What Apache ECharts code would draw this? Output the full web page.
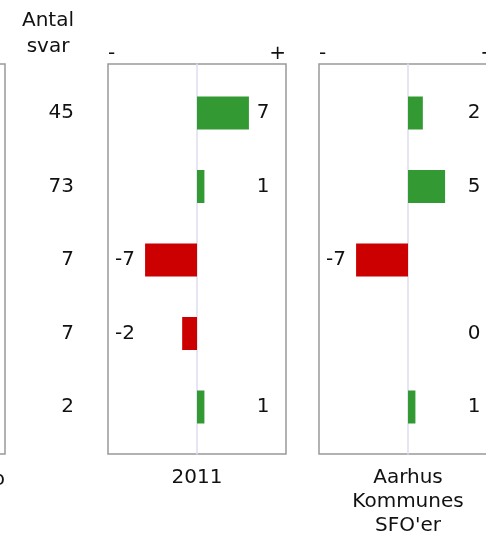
<!DOCTYPE html>
<html>
<head>
<meta charset="utf-8">
<script src="https://cdn.jsdelivr.net/npm/echarts@6/dist/echarts.min.js"></script>
<style>html,body{margin:0;padding:0;background:#fff;}#c{width:486px;height:539px;}</style>
</head>
<body>
<div id="c"></div>
<script>
// ---- data ----
var rows = ['1', '2', '3', '4', '5'];
var answers = [45, 73, 7, 7, 2];
var values2011 = [7, 1, -7, -2, 1];
var valuesAarhus = [2, 5, -7, 0, 1];
var panelNames = ['2011', "Aarhus\nKommunes\nSFO'er"];
var countHeader = 'Antal\nsvar';

// ---- layout / style ----
var FONT = 'DejaVu Sans';
var FS = 20;
var TXT = '#111';
var GREEN = '#339933', RED = '#cc0000';
var AXMIN = -12, AXMAX = 12;
var LBL_POS = 8.9, LBL_NEG = -9.7;
var panels = [{left: 108, values: values2011, name: panelNames[0]},
              {left: 319, values: valuesAarhus, name: panelNames[1]}];
var PW = 178;

var chart = echarts.init(document.getElementById('c'), null, {renderer: 'canvas'});
var grids = [], xAxes = [], yAxes = [], series = [];

// partial frame of a panel off-screen to the left
grids.push({left: -173, width: 178, top: 64, height: 390, show: true, borderColor: '#999', borderWidth: 1.5,
  backgroundColor: 'transparent', outerBoundsMode: 'none', containLabel: false});
xAxes.push({gridIndex: 0, type: 'value', min: AXMIN, max: AXMAX, show: false});
yAxes.push({gridIndex: 0, type: 'value', min: 0, max: 1, show: false});

panels.forEach(function (p, i) {
  var fi = grids.length;
  // frame grid
  grids.push({left: p.left, width: PW, top: 64, height: 390, show: true, borderColor: '#999', borderWidth: 1.5,
    backgroundColor: 'transparent', outerBoundsMode: 'none', containLabel: false});
  xAxes.push({gridIndex: fi, type: 'value', position: 'top', min: AXMIN, max: AXMAX, interval: 12,
    axisLine: {show: false}, axisTick: {show: false}, splitLine: {show: false},
    axisLabel: {show: true, margin: 0, fontFamily: FONT, fontSize: FS, color: TXT,
      alignMinLabel: 'left', alignMaxLabel: 'right', hideOverlap: false,
      formatter: function (v) { return v === AXMIN ? '-' : (v === AXMAX ? '+' : ''); }}});
  yAxes.push({gridIndex: fi, type: 'value', min: 0, max: 1,
    axisLine: {show: true, onZero: true, lineStyle: {color: '#dcdcf0', width: 1.5}},
    axisTick: {show: false}, axisLabel: {show: false}, splitLine: {show: false}});
  // bar grid
  var bi = grids.length;
  grids.push({left: p.left, width: PW, top: 76.25, height: 367.5, outerBoundsMode: 'none', containLabel: false});
  xAxes.push({gridIndex: bi, type: 'value', position: 'bottom', min: AXMIN, max: AXMAX,
    axisLine: {show: false}, axisTick: {show: false}, splitLine: {show: false}, axisLabel: {show: false},
    name: p.name, nameLocation: 'middle', nameGap: 22,
    nameTextStyle: {fontFamily: FONT, fontSize: FS, color: TXT, lineHeight: 24}});
  yAxes.push({gridIndex: bi, type: 'category', data: rows, inverse: true,
    axisLine: {show: false, onZero: false}, axisTick: {show: false}, splitLine: {show: false},
    axisLabel: {show: i === 0, margin: 34, fontFamily: FONT, fontSize: FS, color: TXT,
      formatter: function (v, idx) { return String(answers[idx]); }}});
  series.push({type: 'bar', xAxisIndex: bi, yAxisIndex: bi, barWidth: 33,
    data: p.values.map(function (v) { return {value: v, itemStyle: {color: v >= 0 ? GREEN : RED}}; }),
    silent: true, z: 3});
  series.push({type: 'scatter', xAxisIndex: bi, yAxisIndex: bi, symbolSize: 0, silent: true,
    itemStyle: {opacity: 1},
    data: p.values.map(function (v, k) { return [v >= 0 ? LBL_POS : LBL_NEG, k, v]; }),
    label: {show: true, position: 'inside', fontFamily: FONT, fontSize: FS, color: TXT, opacity: 1,
      formatter: function (d) { return String(d.data[2]); }}});
});

chart.setOption({
  animation: false,
  backgroundColor: '#fff',
  grid: grids, xAxis: xAxes, yAxis: yAxes, series: series,
  graphic: [
    {type: 'text', x: 48, y: 8, style: {text: countHeader, font: FS + 'px "DejaVu Sans"', fill: TXT, textAlign: 'center', lineHeight: 26}},
    {type: 'text', x: 5, y: 470, style: {text: 'Netto', font: FS + 'px "DejaVu Sans"', fill: TXT, textAlign: 'right'}}
  ]
});
</script>
</body>
</html>
